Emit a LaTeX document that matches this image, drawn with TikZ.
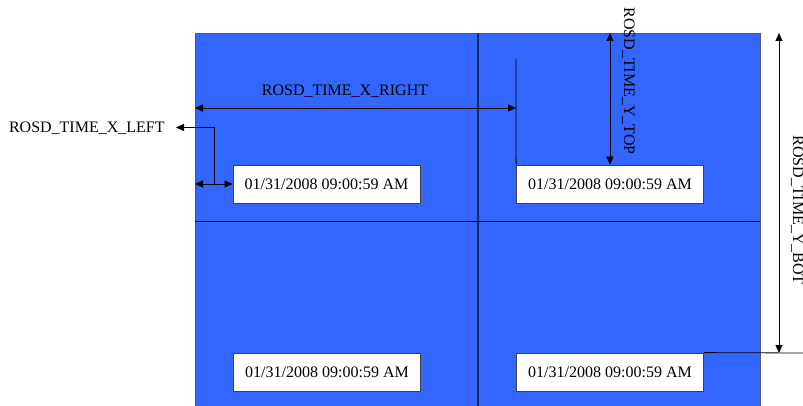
\documentclass[tikz,border=0pt]{standalone}
\usepackage{fontspec}
\setmainfont{Liberation Serif}
\usetikzlibrary{arrows.meta}
\definecolor{screenblue}{HTML}{3366FF}
\definecolor{gridline}{HTML}{1A2A60}
\tikzset{
  timebox/.style={draw=black!75, fill=white, minimum width=187pt, minimum height=38pt, inner sep=0pt, font=\fontsize{16}{19}\selectfont},
  dimlabel/.style={font=\fontsize{16}{19}\selectfont, inner sep=0pt},
}

\begin{document}
\begin{tikzpicture}[x=1pt,y=-1pt,line width=0.8pt,>={Triangle[length=8pt,width=7pt]}]
\clip (0,0) rectangle (803,406);
% screen and its four quarters
\fill[screenblue] (195,33) rectangle (760,410);
\draw[black!65] (195,410) -- (195,33) -- (760,33) -- (760,410);
\draw[gridline, line width=1.2pt] (478,33) -- (478,410);
\draw (195,221) -- (760,221);
% time stamps
\node[timebox] (tl) at (326.5,184) {01/31/2008 09:00:59 AM};
\node[timebox] (tr) at (610,184) {01/31/2008 09:00:59 AM};
\node[timebox] (bl) at (327,372) {01/31/2008 09:00:59 AM};
\node[timebox] (br) at (610,372) {01/31/2008 09:00:59 AM};
% labels
\node[dimlabel, anchor=base east] (xleft) at (165,132.5) {ROSD\_TIME\_X\_LEFT};
\node[dimlabel, anchor=base] (xright) at (345,96) {ROSD\_TIME\_X\_RIGHT};
\node[dimlabel, anchor=base, rotate=-90] (ytop) at (624,81) {ROSD\_TIME\_Y\_TOP};
\node[dimlabel, anchor=base, rotate=-90] (ybot) at (793,210) {ROSD\_TIME\_Y\_BOT};
% dimension points
\coordinate (scr-l) at (195,184);
\coordinate (xl-foot) at (214,184);
\coordinate (xl-tip) at (176,127.5);
\coordinate (xr-start) at (195,108);
\coordinate (xr-end) at (516,108);
\coordinate (tr-ext) at (516,59);
\coordinate (yt-top) at (610,33);
\coordinate (yb-top) at (779,33);
\coordinate (yb-foot) at (779,353);
\coordinate (yb-ext) at (803,353);
% dimension arrows
\draw[<->] (scr-l) -- (tl.west);
\draw[->] (xl-foot) |- (xl-tip);
\draw[<->] (xr-start) -- (xr-end);
\draw (tr.north west) -- (tr-ext);
\draw[<->] (yt-top) -- (tr.north);
\draw[<->] (yb-top) -- (yb-foot);
\draw (br.north east) -- (yb-ext);
\end{tikzpicture}
\end{document}
